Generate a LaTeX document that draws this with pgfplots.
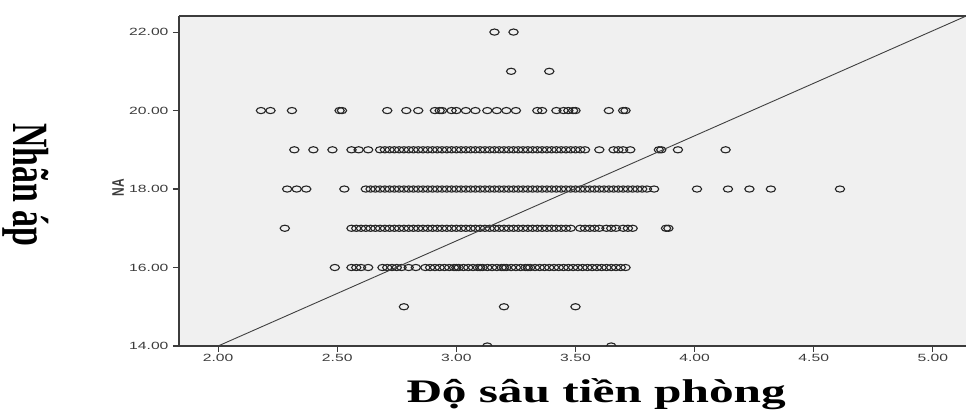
\documentclass[border=0pt]{standalone}
\usepackage{pgfplots}
\pgfplotsset{compat=1.18}
\usepackage{fontspec}
\setmainfont{Liberation Sans}
\newfontfamily\timesbf{Liberation Serif}
\definecolor{bgfill}{HTML}{F0F0F0}
\definecolor{axcol}{HTML}{3C3C3C}
\begin{document}
\begin{tikzpicture}
\begin{axis}[
  at={(179bp,66bp)}, anchor=south west,
  width=787bp, height=330bp, scale only axis,
  xmin=1.836, xmax=5.139, ymin=14, ymax=22.41,
  axis background/.style={fill=bgfill},
  axis x line=box, axis y line=left,
  axis line style={-, draw=axcol, line width=1.2bp},
  tick pos=left, tick align=outside,
  major tick length=6bp,
  every tick/.style={draw=axcol, line width=1.1bp},
  xtick={2,2.5,3,3.5,4,4.5,5},
  ytick={14,16,18,20,22},
  /pgf/number format/assume math mode=true,
  xticklabel={\scalebox{1.5}[1]{\pgfmathprintnumber[fixed,fixed zerofill,precision=2]{\tick}}},
  yticklabel={\scalebox{1.5}[1]{\pgfmathprintnumber[fixed,fixed zerofill,precision=2]{\tick}}},
  tick label style={font=\fontsize{10.5}{12}\selectfont, text=axcol},
  xticklabel style={yshift=1bp},
  yticklabel style={xshift=-1bp},
  clip marker paths=true,
]
\addplot[only marks, mark=o, mark size=3.1bp, draw=black!85, mark options={xscale=1.5, line width=1.1bp, draw=black!85}] coordinates {
(3.13,14) (3.65,14)
(2.78,15) (3.20,15) (3.50,15)
(2.49,16) (2.56,16) (2.58,16) (2.60,16) (2.63,16) (2.69,16) (2.71,16) (2.73,16) (2.75,16) (2.77,16) (2.80,16) (2.83,16)
(2.87,16) (2.89,16) (2.91,16) (2.93,16) (2.95,16) (2.97,16) (2.99,16) (3.01,16) (3.03,16) (3.05,16) (3.07,16) (3.09,16)
(3.11,16) (3.13,16) (3.15,16) (3.17,16) (3.19,16) (3.21,16) (3.23,16) (3.25,16) (3.27,16) (3.29,16) (3.31,16) (3.33,16)
(3.35,16) (3.37,16) (3.39,16) (3.41,16) (3.43,16) (3.45,16) (3.47,16) (3.49,16) (3.51,16) (3.53,16) (3.55,16) (3.57,16)
(3.59,16) (3.61,16) (3.63,16) (3.65,16) (3.67,16) (3.69,16) (3.71,16) (3.00,16) (3.10,16) (3.20,16) (3.30,16)
(2.28,17) (2.56,17) (2.58,17) (2.60,17) (2.62,17) (2.64,17) (2.66,17) (2.68,17) (2.70,17) (2.72,17) (2.74,17) (2.76,17)
(2.78,17) (2.80,17) (2.82,17) (2.84,17) (2.86,17) (2.88,17) (2.90,17) (2.92,17) (2.94,17) (2.96,17) (2.98,17) (3.00,17)
(3.02,17) (3.04,17) (3.06,17) (3.08,17) (3.10,17) (3.12,17) (3.14,17) (3.16,17) (3.18,17) (3.20,17) (3.22,17) (3.24,17)
(3.26,17) (3.28,17) (3.30,17) (3.32,17) (3.34,17) (3.36,17) (3.38,17) (3.40,17) (3.42,17) (3.44,17) (3.46,17) (3.48,17)
(3.52,17) (3.54,17) (3.56,17) (3.58,17) (3.60,17) (3.63,17) (3.65,17) (3.67,17) (3.70,17) (3.72,17) (3.74,17) (3.88,17) (3.89,17)
(2.29,18) (2.33,18) (2.37,18) (2.53,18) (2.62,18) (2.64,18) (2.66,18) (2.68,18) (2.70,18) (2.72,18) (2.74,18) (2.76,18)
(2.78,18) (2.80,18) (2.82,18) (2.84,18) (2.86,18) (2.88,18) (2.90,18) (2.92,18) (2.94,18) (2.96,18) (2.98,18) (3.00,18)
(3.02,18) (3.04,18) (3.06,18) (3.08,18) (3.10,18) (3.12,18) (3.14,18) (3.16,18) (3.18,18) (3.20,18) (3.22,18) (3.24,18)
(3.26,18) (3.28,18) (3.30,18) (3.32,18) (3.34,18) (3.36,18) (3.38,18) (3.40,18) (3.42,18) (3.44,18) (3.46,18) (3.48,18)
(3.50,18) (3.52,18) (3.54,18) (3.56,18) (3.58,18) (3.60,18) (3.62,18) (3.64,18) (3.66,18) (3.68,18) (3.70,18) (3.72,18)
(3.74,18) (3.76,18) (3.78,18) (3.80,18) (3.83,18) (4.01,18) (4.14,18) (4.23,18) (4.32,18) (4.61,18)
(2.32,19) (2.40,19) (2.48,19) (2.56,19) (2.59,19) (2.63,19) (2.68,19) (2.70,19) (2.72,19) (2.74,19) (2.76,19) (2.78,19)
(2.80,19) (2.82,19) (2.84,19) (2.86,19) (2.88,19) (2.90,19) (2.92,19) (2.94,19) (2.96,19) (2.98,19) (3.00,19) (3.02,19)
(3.04,19) (3.06,19) (3.08,19) (3.10,19) (3.12,19) (3.14,19) (3.16,19) (3.18,19) (3.20,19) (3.22,19) (3.24,19) (3.26,19)
(3.28,19) (3.30,19) (3.32,19) (3.34,19) (3.36,19) (3.38,19) (3.40,19) (3.42,19) (3.44,19) (3.46,19) (3.48,19) (3.50,19)
(3.52,19) (3.54,19) (3.60,19) (3.66,19) (3.68,19) (3.70,19) (3.73,19) (3.85,19) (3.86,19) (3.93,19) (4.13,19)
(2.18,20) (2.22,20) (2.31,20) (2.51,20) (2.52,20) (2.71,20) (2.79,20) (2.84,20) (2.91,20) (2.93,20) (2.94,20) (2.98,20)
(3.00,20) (3.04,20) (3.08,20) (3.13,20) (3.17,20) (3.21,20) (3.25,20) (3.34,20) (3.36,20) (3.42,20) (3.45,20) (3.47,20)
(3.49,20) (3.50,20) (3.64,20) (3.70,20) (3.71,20)
(3.23,21) (3.39,21)
(3.16,22) (3.24,22)
};
\addplot[no marks, draw=black!75, line width=0.9bp] coordinates {(2.00,14) (5.14,22.41)};
\end{axis}
\node[rotate=90, text=axcol, font=\fontsize{12}{14}\selectfont\bfseries] at (118bp,224bp) {\scalebox{1}[1.4]{NA}};
\node[rotate=-90, font=\fontsize{34}{40}\selectfont\timesbf\bfseries] at (26bp,227bp) {\scalebox{1}[1.5]{Nhãn áp}};
\node[anchor=base, font=\fontsize{33}{40}\selectfont\timesbf\bfseries, inner sep=0pt] at (596bp,10bp) {\scalebox{1.5}[1]{Độ sâu tiền phòng}};
\pgfresetboundingbox
\path[use as bounding box] (0,0) rectangle (966bp,412bp);
\end{tikzpicture}
\end{document}
